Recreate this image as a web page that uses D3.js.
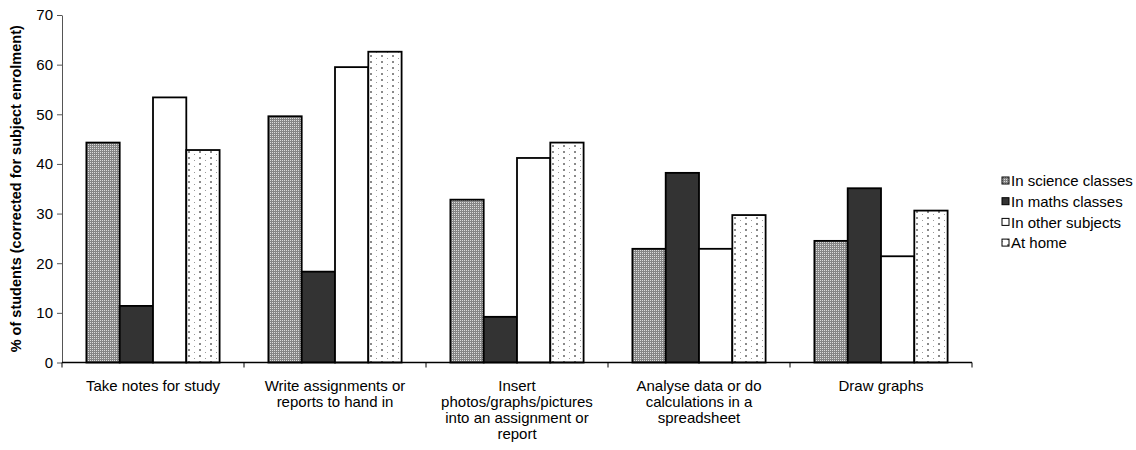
<!DOCTYPE html>
<html>
<head>
<meta charset="utf-8">
<script src="https://cdn.jsdelivr.net/npm/d3@7"></script>
<style>
  html, body { margin: 0; padding: 0; background: #fff; }
  svg { display: block; font-family: "Liberation Sans", Arial, sans-serif; }
</style>
</head>
<body>
<svg id="chart" width="1136" height="450"></svg>
<script>
// Activities students use computers for
const categories = [
  "Take notes for study",
  "Write assignments or reports to hand in",
  "Insert photos/graphs/pictures into an assignment or report",
  "Analyse data or do calculations in a spreadsheet",
  "Draw graphs"
];
// Wrapped tick labels, one array of lines per category
const categoryLines = [
  ["Take notes for study"],
  ["Write assignments or", "reports to hand in"],
  ["Insert", "photos/graphs/pictures", "into an assignment or", "report"],
  ["Analyse data or do", "calculations in a", "spreadsheet"],
  ["Draw graphs"]
];
const seriesNames = ["In science classes", "In maths classes", "In other subjects", "At home"];
const science = [44.3, 49.6, 32.8, 22.9, 24.5];
const maths   = [11.4, 18.3,  9.2, 38.2, 35.1];
const other   = [53.4, 59.5, 41.2, 22.9, 21.4];
const home    = [42.8, 62.6, 44.3, 29.7, 30.6];
const seriesValues = [science, maths, other, home];
const yTicks = [0, 10, 20, 30, 40, 50, 60, 70];

const svg = d3.select("#chart");
const plotLeft = 62, plotRight = 972, plotTop = 15, plotBottom = 362.5;
const fontSize = 15;

// Fill patterns
const defs = svg.append("defs");
const pSci = defs.append("pattern").attr("id", "pat-sci")
  .attr("patternUnits", "userSpaceOnUse").attr("width", 2).attr("height", 2);
pSci.append("rect").attr("width", 2).attr("height", 2).attr("fill", "#858585");
pSci.append("rect").attr("width", 1).attr("height", 1).attr("fill", "#dcdcdc");

const pHome = defs.append("pattern").attr("id", "pat-home")
  .attr("patternUnits", "userSpaceOnUse").attr("width", 11).attr("height", 6);
pHome.append("rect").attr("width", 11).attr("height", 6).attr("fill", "#fff");
pHome.append("rect").attr("x", 5).attr("y", 1).attr("width", 2).attr("height", 2).attr("fill", "#8a8a8a");
pHome.append("rect").attr("x", 0).attr("y", 4).attr("width", 1).attr("height", 1).attr("fill", "#9a9a9a");

const fills = ["url(#pat-sci)", "#333333", "#ffffff", "url(#pat-home)"];

const x0 = d3.scaleBand().domain(categories).range([plotLeft, plotRight]).padding(0);
const x1 = d3.scaleBand().domain(seriesNames)
  .range([24.4, x0.bandwidth() - 24.4]).padding(0);
const y = d3.scaleLinear().domain([0, 70]).range([plotBottom, plotTop]);

// Bars
const groups = svg.append("g").selectAll("g")
  .data(categories).join("g")
  .attr("transform", d => `translate(${x0(d)},0)`);
groups.selectAll("rect")
  .data((c, i) => seriesNames.map((s, k) => ({ s, k, v: seriesValues[k][i] })))
  .join("rect")
  .attr("x", d => x1(d.s))
  .attr("y", d => y(d.v))
  .attr("width", x1.bandwidth())
  .attr("height", d => y(0) - y(d.v))
  .attr("fill", d => fills[d.k])
  .attr("stroke", "#000")
  .attr("stroke-width", 1.8);

// Y axis
const yAxis = svg.append("g").attr("transform", `translate(${plotLeft},0)`)
  .call(d3.axisLeft(y).tickValues(yTicks).tickSize(5).tickSizeOuter(0).tickPadding(4));
yAxis.select(".domain").attr("stroke", "#555");
yAxis.selectAll(".tick line").attr("stroke", "#555");
yAxis.selectAll("text").attr("font-size", fontSize).attr("fill", "#000")
  .attr("font-family", "'Liberation Sans', Arial, sans-serif");

// X axis: ticks on category boundaries
const xAxisG = svg.append("g").attr("transform", `translate(0,${plotBottom})`);
xAxisG.append("line").attr("x1", plotLeft).attr("x2", plotRight)
  .attr("stroke", "#000").attr("stroke-width", 1.5);
const bounds = categories.map(c => x0(c)).concat([x0(categories[categories.length - 1]) + x0.bandwidth()]);
xAxisG.selectAll("line.tk").data(bounds).join("line").attr("class", "tk")
  .attr("x1", d => d).attr("x2", d => d).attr("y1", 0).attr("y2", 5)
  .attr("stroke", "#000").attr("stroke-width", 1);

// Category labels
const lineH = 16;
const lab = svg.append("g").selectAll("text").data(categories).join("text")
  .attr("text-anchor", "middle")
  .attr("font-size", fontSize)
  .attr("fill", "#000")
  .attr("x", d => x0(d) + x0.bandwidth() / 2)
  .attr("y", plotBottom + 28);
lab.each(function (d, i) {
  d3.select(this).selectAll("tspan").data(categoryLines[i]).join("tspan")
    .attr("x", x0(d) + x0.bandwidth() / 2)
    .attr("dy", (t, j) => j === 0 ? 0 : lineH)
    .text(t => t);
});

// Y axis title
svg.append("text")
  .attr("transform", `translate(21,${(plotTop + plotBottom) / 2}) rotate(-90)`)
  .attr("text-anchor", "middle")
  .attr("font-size", 14.5)
  .attr("font-weight", "bold")
  .text("% of students (corrected for subject enrolment)");

// Legend
const legend = svg.append("g").selectAll("g").data(seriesNames).join("g")
  .attr("transform", (d, i) => `translate(1002,${181 + i * 20.7})`);
legend.append("rect")
  .attr("x", 0).attr("y", -4).attr("width", 7).attr("height", 7)
  .attr("fill", (d, i) => fills[i]).attr("stroke", "#000").attr("stroke-width", 1);
legend.append("text")
  .attr("x", 9).attr("y", 0).attr("dy", "0.35em")
  .attr("font-size", fontSize)
  .text(d => d);
</script>
</body>
</html>
